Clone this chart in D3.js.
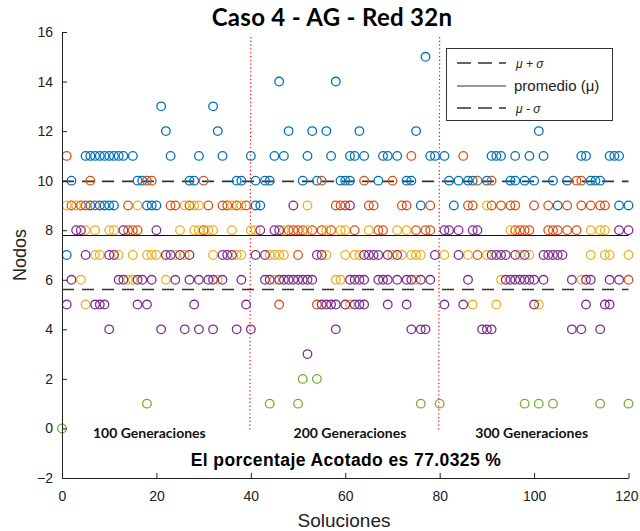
<!DOCTYPE html>
<html><head><meta charset="utf-8">
<script src="https://cdn.jsdelivr.net/npm/d3@7"></script>
<style>body{margin:0;background:#fff;} svg{display:block;}</style>
</head><body>
<svg id="chart" width="640" height="531"></svg>
<script>
// ---- data: each entry is [nodes value, list of solution indices] ----
const seriesNames = ["s1", "s2", "s3", "s4", "s5"];
const blueRows = [
  [15, [77]],
  [14, [46, 58]],
  [13, [21, 32]],
  [12, [22, 33, 48, 53, 56, 63, 75, 101]],
  [11, [5, 6, 7, 8, 9, 10, 11, 12, 13, 15, 23, 29, 34, 40, 45, 47, 52, 57, 61, 62, 64, 68, 69, 71, 78, 79, 81, 91, 92, 93, 96, 99, 102, 110, 111, 116, 117, 118]],
  [10, [2, 16, 17, 27, 28, 37, 38, 41, 43, 44, 51, 54, 59, 60, 61, 67, 73, 74, 82, 84, 86, 87, 90, 95, 96, 98, 100, 104, 107, 112, 113, 114]],
  [9, [6, 8, 9, 10, 11, 18, 19, 20, 41, 42, 76, 83, 105, 118, 120]],
  [7, [1]]
];
const orangeRows = [
  [11, [1, 74, 85]],
  [10, [6, 18, 19, 30, 55, 64, 70, 88, 91, 109, 110]],
  [9, [2, 4, 5, 7, 14, 23, 24, 27, 31, 34, 35, 37, 39, 58, 59, 60, 65, 66, 72, 73, 78, 86, 87, 91, 93, 95, 96, 100, 103, 107, 110, 112, 114, 115]],
  [8, [14, 15, 16, 30, 48, 49, 50, 51, 53, 55, 57, 62, 67, 68, 75, 77, 78, 96, 97, 98, 99, 103, 104, 105, 107, 109]],
  [7, [50, 88]],
  [6, [120]],
  [5, [46, 54]]
];
const yellowRows = [
  [9, [1, 3, 16, 26, 28, 29, 36, 38, 52, 90]],
  [8, [5, 7, 10, 11, 25, 28, 29, 31, 32, 36, 40, 41, 47, 52, 56, 59, 60, 65, 71, 73, 95, 112, 114, 115]],
  [7, [7, 8, 12, 15, 18, 19, 20, 24, 26, 32, 37, 38, 44, 45, 46, 47, 56, 60, 62, 63, 70, 72, 74, 75, 76, 81, 86, 90, 97, 99, 112, 115, 116, 120]],
  [6, [4, 14, 15, 22, 33, 45, 58, 59, 75, 93, 110]],
  [5, [5, 61, 87, 92, 101]]
];
const purpleRows = [
  [9, [49, 61]],
  [8, [3, 4, 13, 20, 42, 45, 46, 81, 82, 84, 87, 88, 118, 120]],
  [7, [5, 10, 11, 22, 23, 25, 27, 34, 35, 36, 41, 43, 54, 55, 64, 65, 66, 67, 69, 71, 79, 84, 91, 92, 93, 94, 96, 98, 102, 103, 104, 105, 106]],
  [6, [2, 12, 13, 16, 17, 19, 24, 27, 29, 31, 32, 34, 38, 43, 44, 46, 47, 48, 49, 50, 51, 52, 53, 61, 62, 63, 64, 67, 68, 69, 71, 73, 74, 76, 78, 86, 94, 95, 96, 97, 98, 99, 100, 102, 108, 111, 112, 116, 118]],
  [5, [1, 7, 8, 9, 16, 18, 28, 39, 55, 56, 57, 58, 60, 62, 63, 64, 69, 73, 81, 85, 100, 111, 115, 116]],
  [4, [10, 21, 26, 29, 32, 37, 40, 58, 74, 76, 77, 89, 90, 91, 108, 110, 114]],
  [3, [52]]
];
const greenRows = [
  [2, [51, 54]],
  [1, [18, 44, 50, 76, 80, 98, 101, 104, 114, 120]],
  [0, [0]]
];
const seriesColors = ["#0072BD", "#D95319", "#EDB120", "#7E2F8E", "#77AC30"];
const meanValue = 7.79;
const stdValue = 2.18;
const dividerX = [40, 80];
const xTicks = [0, 20, 40, 60, 80, 100, 120];
const yTicks = [-2, 0, 2, 4, 6, 8, 10, 12, 14, 16];
const groupLabels = [[18.5, "100 Generaciones"], [61, "200 Generaciones"], [99.5, "300 Generaciones"]];
const legendLabels = ["\u03bc + \u03c3", "promedio (\u03bc)", "\u03bc - \u03c3"];
const titleText = "Caso 4 - AG - Red 32n";
const noteText = "El porcentaje Acotado es 77.0325 %";

// ---- drawing ----
const svg = d3.select("#chart");
const x = d3.scaleLinear().domain([0, 120]).range([62, 628.5]);
const y = d3.scaleLinear().domain([-2, 16]).range([478, 32]);
const tickFont = "'Liberation Sans', Arial, sans-serif";

svg.append("rect").attr("width", 640).attr("height", 531).attr("fill", "#fff");

// dividers
svg.append("g").selectAll("line").data(dividerX).join("line")
  .attr("x1", d => x(d)).attr("x2", d => x(d) - 1)
  .attr("y1", y(15.8)).attr("y2", y(-0.1))
  .attr("stroke", "#ff0000").attr("stroke-width", 1.2)
  .attr("stroke-dasharray", "1.2 2.6");

// reference lines
const refs = [
  {v: meanValue + stdValue, dash: "12 8"},
  {v: meanValue, dash: null},
  {v: meanValue - stdValue, dash: "12 8"}
];
svg.append("g").selectAll("line").data(refs).join("line")
  .attr("x1", x(0)).attr("x2", x(120))
  .attr("y1", d => y(d.v)).attr("y2", d => y(d.v))
  .attr("stroke", d => d.dash ? "#333" : "#111")
  .attr("stroke-width", d => d.dash ? 1.6 : 1.1)
  .attr("stroke-dasharray", d => d.dash);

// points
const allRows = [blueRows, orangeRows, yellowRows, purpleRows, greenRows];
allRows.forEach((rows, i) => {
  const pts = [];
  rows.forEach(([v, xs]) => xs.forEach(s => pts.push([s, v])));
  svg.append("g").attr("class", seriesNames[i]).selectAll("circle").data(pts).join("circle")
    .attr("cx", d => x(d[0])).attr("cy", d => y(d[1])).attr("r", 4.3)
    .attr("fill", "none").attr("stroke", seriesColors[i]).attr("stroke-width", 1.3);
});

// axes
const yAxis = d3.axisLeft(y).tickValues(yTicks).tickSizeInner(-5).tickSizeOuter(0).tickPadding(9);
const gy = svg.append("g").attr("transform", "translate(62,0)").call(yAxis);
const xAxis = d3.axisBottom(x).tickValues(xTicks).tickSizeInner(-5).tickSizeOuter(0).tickPadding(13);
const gx = svg.append("g").attr("transform", "translate(0,478)").call(xAxis);
[gx, gy].forEach(g => {
  g.select(".domain").attr("stroke", "#222").attr("stroke-width", 1);
  g.selectAll(".tick line").attr("stroke", "#222");
  g.selectAll(".tick text").attr("font-family", tickFont).attr("font-size", 14).attr("fill", "#222");
});
gx.selectAll(".tick text").filter(d => d === 120).attr("text-anchor", "end").attr("x", 9.5);

// group labels
svg.append("g").selectAll("text").data(groupLabels).join("text")
  .attr("x", d => x(d[0])).attr("y", 438).attr("text-anchor", "middle")
  .attr("font-family", "Lato, 'Open Sans', sans-serif").attr("font-weight", "bold")
  .attr("font-size", 14).attr("fill", "#111").text(d => d[1]);

svg.append("text").attr("x", 346).attr("y", 466).attr("text-anchor", "middle")
  .attr("font-family", "'Liberation Sans', Arial, sans-serif").attr("font-weight", "bold")
  .attr("font-size", 17.5).attr("letter-spacing", 0.4).attr("fill", "#000").text(noteText);

// title & axis labels
svg.append("text").attr("x", 332).attr("y", 26).attr("text-anchor", "middle")
  .attr("font-family", "Lato, 'Open Sans', sans-serif").attr("font-weight", "bold")
  .attr("font-size", 24).attr("letter-spacing", 0.3).attr("fill", "#000").text(titleText);
svg.append("text").attr("x", 344).attr("y", 527).attr("text-anchor", "middle")
  .attr("font-family", tickFont).attr("font-size", 19).attr("fill", "#222").text("Soluciones");
svg.append("text").attr("transform", "translate(26,255) rotate(-90)").attr("text-anchor", "middle")
  .attr("font-family", tickFont).attr("font-size", 18).attr("fill", "#222").text("Nodos");

// legend
const lg = svg.append("g");
lg.append("rect").attr("x", 446.5).attr("y", 48.5).attr("width", 166).attr("height", 72)
  .attr("fill", "#fff").attr("stroke", "#333").attr("stroke-width", 1);
const legY = [63, 86, 108];
lg.selectAll("line").data(refs).join("line")
  .attr("x1", 457).attr("x2", 506).attr("y1", (d, i) => legY[i]).attr("y2", (d, i) => legY[i])
  .attr("stroke", "#333").attr("stroke-width", d => d.dash ? 1.6 : 1.1)
  .attr("stroke-dasharray", d => d.dash ? "14 7" : null);
lg.selectAll("text").data(legendLabels).join("text")
  .attr("x", (d, i) => i === 1 ? 514 : 516).attr("y", (d, i) => legY[i] + 5)
  .attr("font-family", tickFont).attr("font-size", (d, i) => i === 1 ? 15 : 12)
  .attr("font-style", (d, i) => i === 1 ? "normal" : "italic")
  .attr("fill", "#222").text(d => d);
</script>
</body></html>
